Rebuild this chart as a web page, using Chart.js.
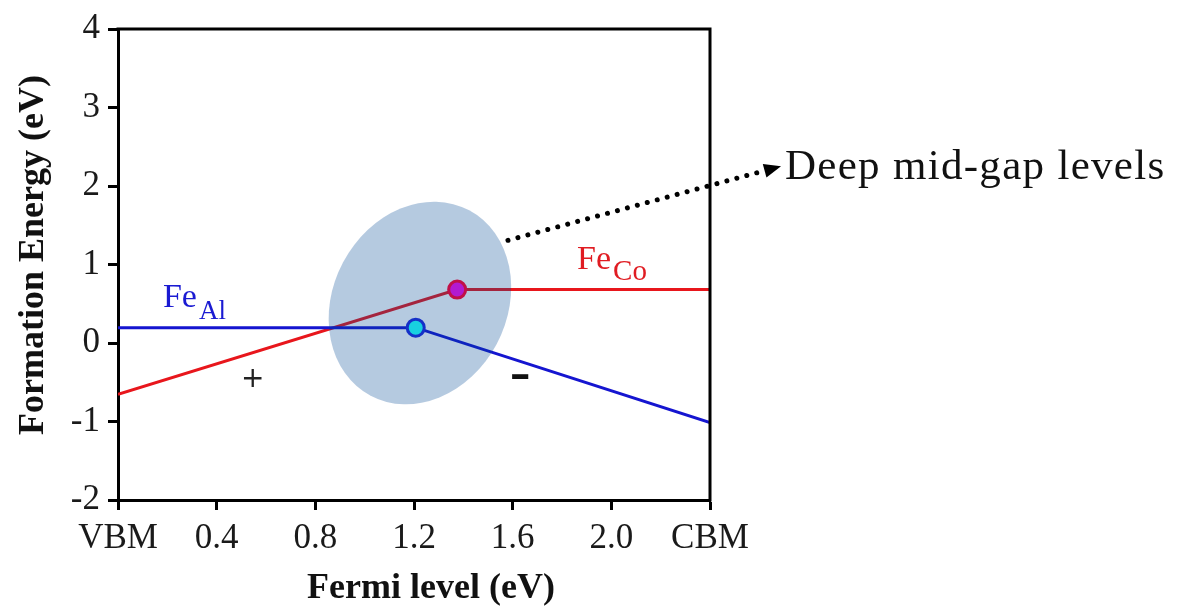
<!DOCTYPE html>
<html><head><meta charset="utf-8">
<script src="https://cdn.jsdelivr.net/npm/chart.js@4.4.1/dist/chart.umd.min.js"></script>
<style>html,body{margin:0;padding:0;background:#fff}#wrap{width:1188px;height:612px;position:relative}</style>
</head><body><div id="wrap"><canvas id="c"></canvas></div>
<script>
// ---- data ----
const xTickValues = [0, 0.4, 0.8, 1.2, 1.6, 2.0, 2.4];
const xTickLabels = ['VBM', '0.4', '0.8', '1.2', '1.6', '2.0', 'CBM'];
const yTickValues = [-2, -1, 0, 1, 2, 3, 4];
const yTickLabels = ['-2', '-1', '0', '1', '2', '3', '4'];
const feCoX = [0, 1.375, 2.4];
const feCoY = [-0.655, 0.68, 0.68];
const feAlX = [0, 1.207, 2.4];
const feAlY = [0.195, 0.195, -1.015];
const transLevelX = [1.375, 1.207];
const transLevelY = [0.68, 0.195];

// ---- layout / annotation settings ----
const SERIF = "'Liberation Serif','Times New Roman',serif";
const ann = {
  ellipse: { x: 1.224, y: 0.509, rx: 105, ry: 87, rot: -62 },
  arrowFrom: { x: 1.581, y: 1.308 },
  arrowTo: { x: 2.688, y: 2.252 },
  deepText: { x: 2.704, y: 2.088, text: 'Deep mid-gap levels' },
  feAl: { x: 0.182, y: 0.453, main: 'Fe', sub: 'Al' },
  feCo: { x: 1.861, y: 0.943, main: 'Fe', sub: 'Co' },
  plus: { x: 0.546, y: -0.462, text: '+' },
  minus: { x: 1.630, y: -0.44, text: '-' }
};

const toXY = (xs, ys) => xs.map((x, i) => ({ x: x, y: ys[i] }));

const annotPlugin = {
  id: 'annot',
  beforeDatasetDraw(chart, args) {
    if (args.index !== 2) return;
    const ctx = chart.ctx, xs = chart.scales.x, ys = chart.scales.y;
    const e = ann.ellipse;
    ctx.save();
    ctx.fillStyle = 'rgba(0,72,148,0.29)';
    ctx.beginPath();
    ctx.ellipse(xs.getPixelForValue(e.x), ys.getPixelForValue(e.y), e.rx, e.ry, e.rot * Math.PI / 180, 0, Math.PI * 2);
    ctx.fill();
    ctx.restore();
  },
  afterDraw(chart) {
    const ctx = chart.ctx, xs = chart.scales.x, ys = chart.scales.y, ca = chart.chartArea;
    const px = p => [xs.getPixelForValue(p.x), ys.getPixelForValue(p.y)];
    ctx.save();
    // frame top/right
    ctx.strokeStyle = '#000'; ctx.lineWidth = 3;
    ctx.beginPath();
    ctx.moveTo(ca.left - 1.5, ca.top); ctx.lineTo(ca.right, ca.top); ctx.lineTo(ca.right, ca.bottom + 1.5);
    ctx.stroke();

    // dotted arrow
    const [x0, y0] = px(ann.arrowFrom), [x1, y1] = px(ann.arrowTo);
    const L = Math.hypot(x1 - x0, y1 - y0), ux = (x1 - x0) / L, uy = (y1 - y0) / L;
    const headLen = 17, headW = 7;
    const bx = x1 - ux * headLen, by = y1 - uy * headLen;
    ctx.strokeStyle = '#000'; ctx.lineWidth = 5; ctx.lineCap = 'round';
    ctx.setLineDash([0.01, 10.3]);
    ctx.beginPath(); ctx.moveTo(x0, y0); ctx.lineTo(bx - ux * 4, by - uy * 4); ctx.stroke();
    ctx.setLineDash([]);
    ctx.fillStyle = '#000';
    ctx.beginPath();
    ctx.moveTo(x1, y1);
    ctx.lineTo(bx - uy * headW, by + ux * headW);
    ctx.lineTo(bx + uy * headW, by - ux * headW);
    ctx.closePath(); ctx.fill();

    // annotation text
    const [tx, ty] = px(ann.deepText);
    ctx.font = '43px ' + SERIF;
    ctx.letterSpacing = '1.3px';
    ctx.textAlign = 'left'; ctx.textBaseline = 'alphabetic';
    ctx.fillStyle = '#111';
    ctx.fillText(ann.deepText.text, tx, ty);
    ctx.letterSpacing = '0px';

    // series labels
    const drawSub = (lab, color, fMain, fSub, drop) => {
      const [lx, ly] = px(lab);
      ctx.fillStyle = color;
      ctx.font = fMain + 'px ' + SERIF;
      ctx.fillText(lab.main, lx, ly);
      const w = ctx.measureText(lab.main).width;
      ctx.font = fSub + 'px ' + SERIF;
      ctx.fillText(lab.sub, lx + w + 2, ly + drop);
    };
    drawSub(ann.feAl, '#1a1ad2', 34, 27, 12);
    drawSub(ann.feCo, '#e01c22', 34, 29, 11);

    // charge signs
    ctx.textAlign = 'center'; ctx.textBaseline = 'middle';
    ctx.fillStyle = '#222';
    let [sx, sy] = px(ann.plus);
    ctx.font = "28px 'DejaVu Sans'";
    ctx.fillText(ann.plus.text, sx, sy);
    [sx, sy] = px(ann.minus);
    ctx.save();
    ctx.translate(sx, sy);
    ctx.scale(1.55, 1);
    ctx.font = "bold 34px 'DejaVu Sans'";
    ctx.fillStyle = '#111';
    ctx.fillText(ann.minus.text, 0, 0);
    ctx.restore();

    // axis titles
    ctx.fillStyle = '#111';
    ctx.font = 'bold 36px ' + SERIF;
    ctx.textAlign = 'center'; ctx.textBaseline = 'alphabetic';
    ctx.fillText('Fermi level (eV)', 431, 598);
    ctx.translate(43, 255);
    ctx.rotate(-Math.PI / 2);
    ctx.fillText('Formation Energy (eV)', 0, 0);
    ctx.restore();
  }
};

const tickFont = { family: SERIF, size: 35 };
new Chart(document.getElementById('c'), {
  type: 'line',
  data: {
    datasets: [
      { label: 'FeAl', data: toXY(feAlX, feAlY), borderColor: '#1515d0', borderWidth: 3, pointRadius: 0, order: 2, tension: 0 },
      { label: 'FeCo', data: toXY(feCoX, feCoY), borderColor: '#e8161c', borderWidth: 3, pointRadius: 0, order: 3, tension: 0 },
      { label: 'levels', data: toXY(transLevelX, transLevelY), showLine: false, order: 0,
        pointRadius: [8.5, 8.5], borderWidth: 3, pointBorderWidth: 3,
        pointBackgroundColor: ['#b21ad0', '#18d0e0'], pointBorderColor: ['#c01048', '#1530c8'] }
    ]
  },
  options: {
    responsive: true, maintainAspectRatio: false, animation: false,
    layout: { padding: { top: 23, right: 478, left: 0, bottom: 0 } },
    plugins: { legend: { display: false }, tooltip: { enabled: false } },
    scales: {
      x: {
        type: 'linear', min: 0, max: 2.4,
        afterFit: s => { s.height = 112; },
        afterBuildTicks: s => { s.ticks = xTickValues.map(v => ({ value: v })); },
        ticks: { callback: (v, i) => xTickLabels[i], font: tickFont, color: '#1a1a1a', padding: 8, autoSkip: false, maxRotation: 0 },
        grid: { display: true, drawOnChartArea: false, drawTicks: true, tickLength: 10, tickWidth: 3, tickColor: '#000' },
        border: { display: true, color: '#000', width: 3 }
      },
      y: {
        type: 'linear', min: -2, max: 4,
        afterFit: s => { s.width = 118; },
        afterBuildTicks: s => { s.ticks = yTickValues.map(v => ({ value: v })); },
        ticks: { callback: (v, i) => yTickLabels[i], font: tickFont, color: '#1a1a1a', padding: 8, autoSkip: false },
        grid: { display: true, drawOnChartArea: false, drawTicks: true, tickLength: 10, tickWidth: 3, tickColor: '#000' },
        border: { display: true, color: '#000', width: 3 }
      }
    }
  },
  plugins: [annotPlugin]
});
</script></body></html>
